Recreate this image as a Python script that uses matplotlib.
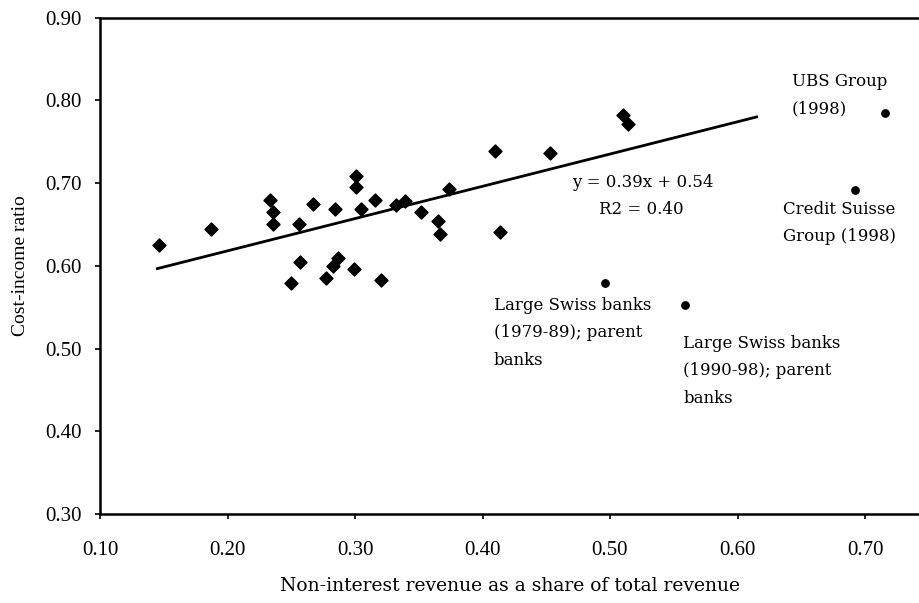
import numpy as np
import matplotlib
matplotlib.use("Agg")
import matplotlib.pyplot as plt

# bank observations (non-interest share, cost-income ratio)
share = [0.146, 0.187, 0.233, 0.236, 0.236, 0.256, 0.267, 0.284, 0.301, 0.301,
         0.305, 0.257, 0.250, 0.277, 0.283, 0.287, 0.299, 0.316, 0.320, 0.332,
         0.339, 0.352, 0.365, 0.367, 0.374, 0.410, 0.414, 0.453, 0.510, 0.514]
cost_income = [0.625, 0.645, 0.680, 0.665, 0.651, 0.651, 0.675, 0.669, 0.708, 0.695,
               0.669, 0.605, 0.579, 0.585, 0.600, 0.609, 0.596, 0.680, 0.583, 0.673,
               0.678, 0.665, 0.654, 0.638, 0.693, 0.739, 0.641, 0.736, 0.782, 0.771]

# highlighted groups
group_labels = [["UBS Group", "(1998)"],
                ["Credit Suisse", "Group (1998)"],
                ["Large Swiss banks", "(1979-89); parent", "banks"],
                ["Large Swiss banks", "(1990-98); parent", "banks"]]
group_share = [0.716, 0.692, 0.496, 0.559]
group_ratio = [0.784, 0.691, 0.579, 0.553]
# left edge / first line centre of each label
label_pos = [(0.6425, 0.8224), (0.6355, 0.6681), (0.409, 0.5524), (0.5575, 0.5061)]

slope, intercept = 0.39, 0.54
fit_range = (0.145, 0.615)
fit_text = ["y = 0.39x + 0.54", "R2 = 0.40"]

x_ticks = [0.10, 0.20, 0.30, 0.40, 0.50, 0.60, 0.70]
y_ticks = [0.30, 0.40, 0.50, 0.60, 0.70, 0.80, 0.90]

plt.rcParams['font.family'] = ['Liberation Serif', 'DejaVu Serif']
note_font = dict(family='DejaVu Serif', fontsize=12)

fig = plt.figure(figsize=(9.19, 6.03), dpi=100)
ax = fig.add_axes([100 / 919, 1 - 514 / 603, 1 - 100 / 919, (514 - 17.5) / 603])

ax.scatter(share, cost_income, marker='D', s=44, color='black', zorder=3)
ax.scatter(group_share, group_ratio, marker='o', s=28, color='black', zorder=3)

xf = np.array(fit_range)
ax.plot(xf, slope * xf + intercept, color='black', linewidth=2)

ax.text(0.5255, 0.7002, fit_text[0], ha='center', va='center', **note_font)
ax.text(0.5245, 0.668, fit_text[1], ha='center', va='center', **note_font)

# 27.5 px between lines of a label
step = 27.5 * 72 / 100
for lines, (tx, ty) in zip(group_labels, label_pos):
    for i, line in enumerate(lines):
        ax.annotate(line, (tx, ty), xytext=(0, -i * step), textcoords='offset points',
                    ha='left', va='center', **note_font)

ax.set_xlim(0.10, 0.10 + 819 / 1275)
ax.set_ylim(0.30, 0.90)
ax.set_xticks(x_ticks)
ax.set_yticks(y_ticks)
ax.set_xticklabels([f"{v:.2f}" for v in x_ticks], fontsize=15)
ax.set_yticklabels([f"{v:.2f}" for v in y_ticks], fontsize=15)
ax.tick_params(axis='y', direction='out', length=3.6, width=1.2, pad=9.4)
ax.tick_params(axis='x', direction='out', length=3.6, width=1.2, pad=16)

for side in ['left', 'bottom', 'top']:
    ax.spines[side].set_linewidth(1.8)
ax.spines['right'].set_visible(False)

ax.set_ylabel("Cost-income ratio", fontsize=14, labelpad=12)
ax.set_xlabel("Non-interest revenue as a share of total revenue",
              family='DejaVu Serif', fontsize=13.5, labelpad=12)

fig.savefig("out.png", dpi=100)
